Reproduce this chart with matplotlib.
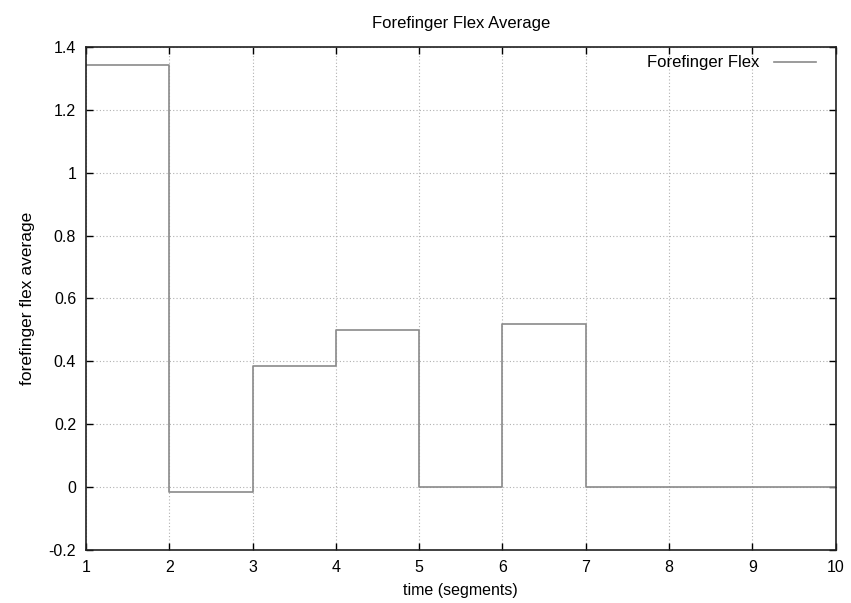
import matplotlib
matplotlib.use('Agg')
from matplotlib import pyplot as plt

# segment start times and forefinger flex averages
segments = [1, 2, 3, 4, 5, 6, 7, 8, 9, 10]
flex_avg = [1.342, -0.015, 0.385, 0.499, 0.0, 0.518, 0.0, 0.0, 0.0, 0.0]
xticks = [1, 2, 3, 4, 5, 6, 7, 8, 9, 10]
yticks = [-0.2, 0, 0.2, 0.4, 0.6, 0.8, 1, 1.2, 1.4]
ytick_labels = ['-0.2', '0', '0.2', '0.4', '0.6', '0.8', '1', '1.2', '1.4']

plt.rcParams['font.family'] = ['Liberation Sans', 'DejaVu Sans']
plt.rcParams['font.size'] = 10

fig = plt.figure(figsize=(8.51, 6.03), dpi=100)
ax = fig.add_axes([0.101, 0.088, 0.881, 0.834])

ax.plot(segments, flex_avg, drawstyle='steps-post', color='#8a8a8a', lw=1.2,
        label='Forefinger Flex')

ax.set_xlim(1, 10)
ax.set_ylim(-0.2, 1.4)
ax.set_xticks(xticks)
ax.set_yticks(yticks)
ax.set_yticklabels(ytick_labels)
ax.tick_params(direction='in', top=True, right=True, length=5, width=1, pad=7,
               labelsize=11.5)
ax.grid(True, linestyle=(0, (1, 2)), color='#b0b0b0', lw=0.8)
for s in ax.spines.values():
    s.set_linewidth(1.2)
    s.set_color('#202020')

ax.set_title('Forefinger Flex Average', pad=14)
ax.set_xlabel('time (segments)', labelpad=6, fontsize=11.5)
ax.set_ylabel('forefinger flex average', labelpad=10, fontsize=12.5)

ax.legend(loc='upper right', frameon=False, markerfirst=False, handlelength=2.5,
          handletextpad=0.9, borderaxespad=0.3, borderpad=0.2,
          bbox_to_anchor=(0.985, 1.0), fontsize=12)

fig.savefig('out.png', dpi=100)
